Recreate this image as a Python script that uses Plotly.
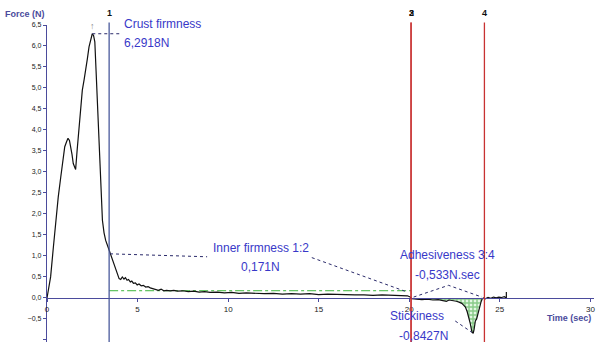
import plotly.graph_objects as go

# Texture profile: force (N) against time (s)
time_s = [0.0, 0.05, 0.2, 0.35, 0.48, 0.62, 0.76, 0.88, 0.98, 1.08, 1.16, 1.24, 1.31, 1.38, 1.45,
          1.52, 1.58, 1.66, 1.77, 1.86, 1.95, 2.05, 2.14, 2.23, 2.32, 2.42, 2.5, 2.57, 2.64, 2.71,
          2.78, 2.86, 2.93, 3.0, 3.06, 3.15, 3.24, 3.38, 3.52, 3.66, 3.8, 3.9, 3.98, 4.07, 4.16,
          4.25, 4.33, 4.42, 4.5, 4.6, 4.68, 4.77, 4.88, 4.98, 5.08, 5.2, 5.32, 5.45, 5.58, 5.7,
          5.85, 6.0, 6.15, 6.3, 6.45, 6.6, 6.8, 7.0, 7.2, 7.5, 7.8, 8.1, 8.4, 8.7, 9.0, 9.4, 9.8,
          10.2, 10.6, 11.0, 11.5, 12.0, 12.5, 13.0, 13.5, 14.0, 14.5, 15.0, 15.5, 16.0, 16.5,
          17.0, 17.5, 18.0, 18.5, 19.0, 19.5, 19.9, 20.05, 20.15, 20.4, 20.7, 21.0, 21.3, 21.6,
          21.9, 22.05, 22.2, 22.4, 22.6, 22.75, 22.9, 23.0, 23.1, 23.2, 23.28, 23.37, 23.46,
          23.53, 23.58, 23.65, 23.72, 23.78, 23.85, 23.9, 23.96, 24.02, 24.1, 24.2, 24.35, 24.5,
          24.65, 24.8, 24.95, 25.1, 25.25, 25.36, 25.36]
force_n = [0.0, 0.15, 0.5, 1.2, 1.85, 2.4, 2.88, 3.3, 3.6, 3.72, 3.8, 3.75, 3.62, 3.42, 3.2,
           3.1, 3.06, 3.5, 4.07, 4.55, 4.95, 5.2, 5.42, 5.7, 5.98, 6.18, 6.2918, 6.25, 6.1, 5.4,
           4.63, 3.8, 3.04, 2.4, 1.85, 1.55, 1.37, 1.2, 1.02, 0.84, 0.66, 0.52, 0.46, 0.44, 0.5,
           0.45, 0.48, 0.42, 0.44, 0.38, 0.4, 0.35, 0.36, 0.31, 0.33, 0.29, 0.30, 0.26, 0.27, 0.24,
           0.22, 0.2, 0.18, 0.21, 0.17, 0.18, 0.17, 0.18, 0.16, 0.17, 0.15, 0.16, 0.14, 0.15, 0.13,
           0.14, 0.12, 0.13, 0.11, 0.12, 0.11, 0.10, 0.11, 0.09, 0.10, 0.09, 0.10, 0.08, 0.09,
           0.08, 0.08, 0.07, 0.07, 0.06, 0.07, 0.06, 0.06, 0.05, 0.02, -0.02, -0.03, -0.04, -0.03,
           -0.05, -0.04, -0.06, -0.08, -0.05, -0.06, -0.08, -0.1, -0.13, -0.17, -0.22, -0.33,
           -0.45, -0.61, -0.81, -0.8427, -0.75, -0.55, -0.5, -0.39, -0.3, -0.18, -0.1, -0.03, 0.0,
           -0.02, 0.01, -0.01, 0.02, 0.0, 0.02, 0.01, 0.03, 0.0, 0.14]

# Analysis markers (time positions) and their labels
marker_times = [3.43, 20.1, 20.1, 24.15]
marker_labels = ["1", "2", "3", "4"]
marker_colors = ["#4a5a9c", "#c83232", "#c83232", "#c83232"]

# Results
crust_peak = (2.5, 6.2918)
inner_firmness = 0.171
stickiness_min = (23.53, -0.8427)

TEXT_BLUE = "#3838c8"
AXIS_BLUE = "#4b4b9c"
LEADER = "#2a2a6a"

y_min, y_max = -1.05, 6.5
x_min, x_max = 0, 30.2
plot_w, plot_h = 547, 317

fig = go.Figure()

# Adhesiveness area between markers 3 and 4
adh_t = [t for t in time_s if marker_times[2] <= t <= marker_times[3]]
adh_f = [f for t, f in zip(time_s, force_n) if marker_times[2] <= t <= marker_times[3]]
fig.add_trace(go.Scatter(
    x=adh_t, y=adh_f, mode="lines", line=dict(width=0), fill="tozeroy",
    fillcolor="rgba(170,225,170,0.35)",
    fillpattern=dict(shape="+", fgcolor="#2f9e2f", bgcolor="rgba(200,240,200,0.5)",
                     size=4, solidity=0.6),
    hoverinfo="skip"))

# Inner firmness mean level between markers 1 and 2
fig.add_trace(go.Scatter(
    x=[marker_times[0], marker_times[1]], y=[inner_firmness, inner_firmness],
    mode="lines", line=dict(color="#3cb43c", width=1, dash="dashdot"), hoverinfo="skip"))

# Force curve
fig.add_trace(go.Scatter(x=time_s, y=force_n, mode="lines",
                         line=dict(color="#111111", width=1.2)))

# Leader lines for the result labels
leaders = [
    ([crust_peak[0], 4.13], [crust_peak[1], crust_peak[1]]),
    ([3.48, 8.84], [1.05, 0.98]),
    ([14.62, 19.87], [0.96, 0.143]),
    ([20.24, 22.17, 24.01], [0.02, 0.30, 0.02]),
    ([22.54, 23.46], [-0.55, -0.82]),
]
for lx, ly in leaders:
    fig.add_trace(go.Scatter(x=lx, y=ly, mode="lines",
                             line=dict(color=LEADER, width=1, dash="dot"), hoverinfo="skip"))

# Vertical analysis markers with their numbers
for t, lab, col in zip(marker_times, marker_labels, marker_colors):
    fig.add_shape(type="line", xref="x", yref="paper", x0=t, x1=t, y0=0, y1=1.008,
                  line=dict(color=col, width=1.3))
    fig.add_annotation(x=t, y=1.038, xref="x", yref="paper", text=f"<b>{lab}</b>",
                       showarrow=False, yanchor="middle",
                       font=dict(family="Arial", size=9, color="#111111"))

# Peak indicator
fig.add_annotation(x=crust_peak[0], y=6.47, text="↑", showarrow=False,
                   font=dict(family="Arial", size=9, color="#888888"))

# Result labels (paper coordinates so that they can sit above the axis range)
def px_x(t):
    return (t - x_min) / (x_max - x_min)


def px_y(f):
    return (f - y_min) / (y_max - y_min)


labels = [
    ("Crust firmness", px_x(4.13), 1.003, "left"),
    ("6,2918N", px_x(4.13), px_y(6.06), "left"),
    ("Inner firmness 1:2", px_x(11.8), px_y(1.195), "center"),
    ("0,171N", px_x(11.77), px_y(0.74), "center"),
    ("Adhesiveness 3:4", px_x(22.1), px_y(1.02), "center"),
    ("-0,533N.sec", px_x(22.1), px_y(0.54), "center"),
    ("Stickiness", px_x(20.41), px_y(-0.436), "center"),
    ("-0,8427N", px_x(20.8), px_y(-0.91), "center"),
]
for txt, x, y, anchor in labels:
    fig.add_annotation(x=x, y=y, xref="paper", yref="paper", text=txt, showarrow=False,
                       xanchor=anchor, yanchor="middle",
                       font=dict(family="Arial", size=12, color=TEXT_BLUE))

# Axis titles
fig.add_annotation(x=-44 / plot_w, y=1.035, xref="paper", yref="paper", text="<b>Force (N)</b>",
                   showarrow=False, xanchor="left", yanchor="middle",
                   font=dict(family="Arial", size=9, color=AXIS_BLUE))
fig.add_annotation(x=0.999, y=0.0757, xref="paper", yref="paper", text="<b>Time (sec)</b>",
                   showarrow=False, xanchor="right", yanchor="middle",
                   font=dict(family="Arial", size=9, color=AXIS_BLUE))

fig.update_layout(
    width=598, height=342,
    margin=dict(l=47, r=4, t=25, b=0),
    paper_bgcolor="white", plot_bgcolor="white",
    showlegend=False,
    separators=",.",
    xaxis=dict(range=[x_min, x_max], dtick=5, tick0=0, showgrid=False, zeroline=False,
               showline=True, linecolor=AXIS_BLUE, linewidth=1.3,
               ticks="outside", ticklen=3, tickcolor=AXIS_BLUE,
               anchor="free", position=px_y(0),
               tickfont=dict(family="Arial", size=8, color="#222222")),
    yaxis=dict(range=[y_min, y_max], dtick=0.5, tick0=0, tickformat=".1f",
               showgrid=False, zeroline=False,
               showline=True, linecolor=AXIS_BLUE, linewidth=1.3,
               ticks="outside", ticklen=3, tickcolor=AXIS_BLUE,
               tickfont=dict(family="Arial", size=7, color="#222222")),
)

fig.write_html("out.html")
